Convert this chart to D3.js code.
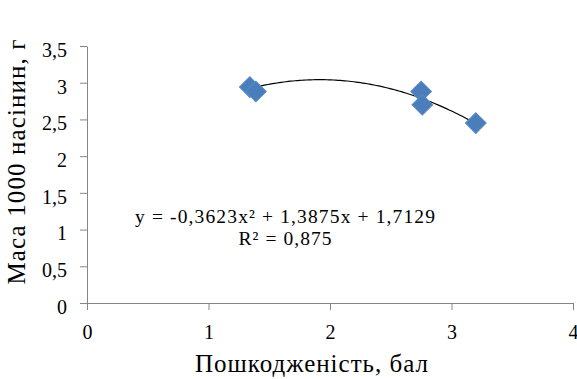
<!DOCTYPE html>
<meta charset="utf-8">
<script src="https://d3js.org/d3.v7.min.js"></script>
<style>
    body { margin: 0; background: #fff; }
</style>
<body>
    <div id="chart"></div>
</body>
<script>

    // data
    var damage = [1.34, 1.39, 2.75, 2.76, 3.20];
    var mass = [2.94, 2.88, 2.88, 2.70, 2.45];
    var xTicks = [0, 1, 2, 3, 4];
    var yTicks = [0, 0.5, 1, 1.5, 2, 2.5, 3, 3.5];
    var coef = [-0.3623, 1.3875, 1.7129];
    var equation = ["y = -0,3623x\u00b2 + 1,3875x + 1,7129", "R\u00b2 = 0,875"];

    var FONT = "'Liberation Serif', 'Times New Roman', 'DejaVu Serif', serif";

    var W = 577, H = 379;
    var margin = { top: 46, right: 4, bottom: 76, left: 87 },
        width = W - margin.left - margin.right,
        height = H - margin.top - margin.bottom;

    var svg = d3.select("#chart")
        .append("svg")
        .attr("width", W)
        .attr("height", H)
        .style("font-family", FONT);

    var g = svg.append("g")
        .attr("transform", "translate(" + margin.left + "," + margin.top + ")");

    var x = d3.scaleLinear().domain([0, 4]).range([0, width]);
    var y = d3.scaleLinear().domain([0, 3.5]).range([height, 0]);

    var fmt = function (d) { return String(d).replace(".", ","); };

    // x axis
    var xAxis = g.append("g")
        .attr("transform", "translate(0," + height + ")")
        .call(d3.axisBottom(x).tickValues(xTicks).tickFormat(fmt).tickSize(7).tickSizeOuter(0).tickPadding(15));

    // y axis
    var yAxis = g.append("g")
        .call(d3.axisLeft(y).tickValues(yTicks).tickFormat(fmt).tickSize(7).tickSizeOuter(0).tickPadding(13));
    yAxis.selectAll(".tick text").attr("dy", "0.52em");

    [xAxis, yAxis].forEach(function (a) {
        a.attr("font-family", null).attr("font-size", 20);
        a.select(".domain").attr("stroke", "#868686");
        a.selectAll(".tick line").attr("stroke", "#868686");
        a.selectAll(".tick text").attr("fill", "#000").style("font-family", FONT);
    });

    // trendline
    var poly = function (v) { return coef[0] * v * v + coef[1] * v + coef[2]; };
    var xs = d3.range(0, 101).map(function (i) {
        return damage[0] + (d3.max(damage) - damage[0]) * i / 100;
    });
    g.append("path")
        .datum(xs)
        .attr("fill", "none")
        .attr("stroke", "#000")
        .attr("stroke-width", 1.2)
        .attr("d", d3.line()
            .x(function (d) { return x(d); })
            .y(function (d) { return y(poly(d)); }));

    // markers
    g.append("g")
        .selectAll("path")
        .data(damage)
        .enter()
        .append("path")
        .attr("d", d3.symbol().type(d3.symbolSquare).size(215))
        .attr("transform", function (d, i) {
            return "translate(" + x(d) + "," + y(mass[i]) + ") rotate(45)";
        })
        .attr("fill", "#4a7ebb")
        .attr("stroke", "#5a8ac4")
        .attr("stroke-width", 1);

    // equation
    var eqWidth = [300, 93];
    g.append("g")
        .selectAll("text")
        .data(equation)
        .enter()
        .append("text")
        .attr("x", 285 - margin.left)
        .attr("y", function (d, i) { return 223 - margin.top + i * 22; })
        .attr("text-anchor", "middle")
        .style("font-family", FONT)
        .attr("font-size", 19.5)
        .attr("textLength", function (d, i) { return eqWidth[i]; })
        .attr("lengthAdjust", "spacing")
        .text(function (d) { return d; });

    // axis titles
    svg.append("text")
        .attr("x", 311.5)
        .attr("y", 372)
        .attr("text-anchor", "middle")
        .style("font-family", FONT)
        .attr("font-size", 25)
        .attr("textLength", 233)
        .attr("lengthAdjust", "spacing")
        .text("Пошкодженість, бал");

    svg.append("text")
        .attr("transform", "translate(25,162) rotate(-90)")
        .attr("text-anchor", "middle")
        .style("font-family", FONT)
        .attr("font-size", 25)
        .attr("textLength", 245)
        .attr("lengthAdjust", "spacing")
        .text("Маса 1000 насінин, г");

</script>
